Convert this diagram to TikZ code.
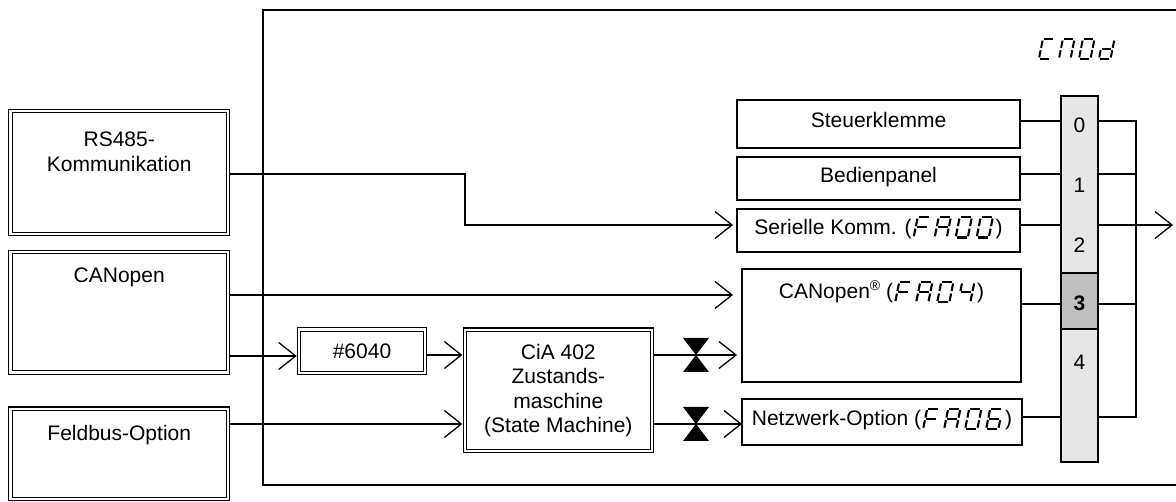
\documentclass[tikz,border=0pt]{standalone}
\usepackage{fontspec}
\setmainfont{Liberation Sans}
\usetikzlibrary{arrows.meta,calc}
\definecolor{barlight}{HTML}{E6E6E6}
\definecolor{bardark}{HTML}{C0C0C0}
% seven-segment glyph: segments a b c d e f g
\newcommand{\sseg}[7]{\tikz[baseline=0pt,x=1em,y=1em]{%
 \path (0,-0.2) (1.0,0.82);%
 \begin{scope}[xslant=0.2,line width=0.1em,line cap=butt]
 \ifnum#1=1 \draw (0.19,0.8)--(0.65,0.8);\fi
 \ifnum#2=1 \draw (0.71,0.74)--(0.71,0.38);\fi
 \ifnum#3=1 \draw (0.71,0.26)--(0.71,-0.10);\fi
 \ifnum#4=1 \draw (0.19,-0.16)--(0.65,-0.16);\fi
 \ifnum#5=1 \draw (0.13,0.26)--(0.13,-0.10);\fi
 \ifnum#6=1 \draw (0.13,0.74)--(0.13,0.38);\fi
 \ifnum#7=1 \draw (0.19,0.32)--(0.65,0.32);\fi
 \end{scope}}}
\newcommand{\gF}{\sseg1000111}
\newcommand{\gA}{\sseg1110111}
\newcommand{\gZ}{\sseg1111110}
\newcommand{\gV}{\sseg0110011}
\newcommand{\gS}{\sseg1011111}
\newcommand{\gC}{\sseg1001110}
\newcommand{\gM}{\sseg1110110}
\newcommand{\gD}{\sseg0111101}
\newcommand{\regmark}{\raisebox{0.42em}{\fontsize{14}{14}\selectfont ®}}
\begin{document}
\begin{tikzpicture}[x=1pt,y=-1pt,
 every node/.style={font=\fontsize{21}{25}\selectfont, inner sep=0pt, outer sep=0pt},
 dbox/.style={draw, line width=1.1pt, double, double distance=2.2pt},
 sbox/.style={draw, line width=1.3pt, text height=0.72em, text depth=0pt},
 conn/.style={line width=1.3pt},
 arr/.style={conn, -{Straight Barb[length=17pt,width=27pt]}},
]
\useasboundingbox (0,0) rectangle (1176,502);
% frame
\coordinate (ftl) at (263,10);
\coordinate (fbl) at (263,485);
\draw[conn] (1176,10) -- (ftl) -- (fbl) -- (1176,485);
% left sources
\node[dbox, minimum width=217.5pt, minimum height=123pt] (rs) at (119.25,172.5) {};
\node[dbox, minimum width=217.5pt, minimum height=120.5pt] (can) at (119.25,312.25) {};
\node[dbox, minimum width=217.5pt, minimum height=90.3pt] (fb) at (119.25,453.85) {};
\node[anchor=north, align=center] (rst) at (119.25,131.5) {RS485-\\Kommunikation};
\node[anchor=north] (cant) at (119.25,268) {CANopen};
\node[anchor=north] (fbt) at (119.25,425) {Feldbus-Option};
% middle
\node[dbox, minimum width=126pt, minimum height=43.5pt] (n6040) at (362,351.25) {\#6040};
\node[dbox, minimum width=187.3pt, minimum height=121.6pt, align=center,
  font=\fontsize{21}{24.4}\selectfont] (cia) at (558.35,390.5) {CiA 402\\Zustands-\\maschine\\(State Machine)};
% right boxes
\node[sbox, minimum width=283pt, minimum height=48pt] (st) at (878.5,124) {Steuerklemme};
\node[sbox, minimum width=283pt, minimum height=43pt] (bp) at (878.5,178.5) {Bedienpanel};
\node[sbox, minimum width=283pt, minimum height=43pt] (se) at (878.5,230.5) {Serielle Komm. (\gF\gA\gZ\gZ)};
\node[sbox, minimum width=279pt, minimum height=113pt] (co) at (881.5,325.5) {};
\node[anchor=base] (cot) at (881.5,299) {CANopen\regmark\ (\gF\gA\gZ\gV)};
\node[sbox, minimum width=280pt, minimum height=46pt] (nw) at (882,422) {Netzwerk-Option (\gF\gA\gZ\gS)};
% selector bar
\node[draw, line width=1.3pt, fill=barlight, minimum width=37pt, minimum height=366pt] (bar) at (1079.5,279) {};
\node[draw, line width=1.3pt, fill=bardark, minimum width=37pt, minimum height=56pt] (bar3) at (1079.5,301) {};
\node (d0) at (1079.5,125) {0};
\node (d1) at (1079.5,185) {1};
\node (d2) at (1079.5,245) {2};
\node (d3) at (1079.5,303) {\textbf{3}};
\node (d4) at (1079.5,362) {4};
\node (cmod) at (1077,49) {\fontsize{20}{22}\selectfont\gC\gM\gZ\gD};
% row coordinates
\coordinate (j0) at (1136,121);
\coordinate (j1) at (1136,174);
\coordinate (j2) at (1136,225);
\coordinate (j3) at (1136,304);
\coordinate (j4) at (1136,417);
\coordinate (out) at (1173,225);
\draw[conn] (st.east |- j0) -- (bar.west |- j0);
\draw[conn] (bp.east |- j1) -- (bar.west |- j1);
\draw[conn] (se.east |- j2) -- (bar.west |- j2);
\draw[conn] (co.east |- j3) -- (bar.west |- j3);
\draw[conn] (nw.east |- j4) -- (bar.west |- j4);
\draw[conn] (bar.east |- j0) -- (j0) -- (j4) -- (bar.east |- j4);
\draw[conn] (bar.east |- j1) -- (j1);
\draw[conn] (bar.east |- j3) -- (j3);
\draw[arr] (bar.east |- j2) -- (out);
% left connectors
\coordinate (k1) at (465,174);
\coordinate (k2) at (465,225);
\coordinate (r295) at (0,295);
\coordinate (r356) at (0,356);
\coordinate (r355) at (0,355);
\coordinate (r424) at (0,424);
\draw[arr, shorten <=2.3pt, shorten >=4pt] (rs.east |- k1) -- (k1) -- (k2) -- (se.west |- k2);
\draw[arr, shorten <=2.3pt, shorten >=9pt] (can.east |- r295) -- (co.west |- r295);
\draw[arr, shorten <=2.3pt, shorten >=2.3pt] (can.east |- r356) -- (n6040.west |- r356);
\draw[arr, shorten <=2.3pt, shorten >=2.3pt] (n6040.east |- r355) -- (cia.west |- r355);
\draw[arr, shorten <=2.3pt, shorten >=2.3pt] (fb.east |- r424) -- (cia.west |- r424);
\draw[arr, shorten <=2.3pt, shorten >=5pt] (cia.east |- r355) -- (co.west |- r355);
\draw[arr, shorten <=2.3pt] (cia.east |- r424) -- (nw.west |- r424);
% bowties
\coordinate (bt1) at (696,355);
\coordinate (bt2) at (696,424);
\fill (bt1) -- ++(-13,-17) -- ++(26,0) -- cycle;
\fill (bt1) -- ++(-13,17) -- ++(26,0) -- cycle;
\fill (bt2) -- ++(-13,-17) -- ++(26,0) -- cycle;
\fill (bt2) -- ++(-13,17) -- ++(26,0) -- cycle;
\end{tikzpicture}
\end{document}
